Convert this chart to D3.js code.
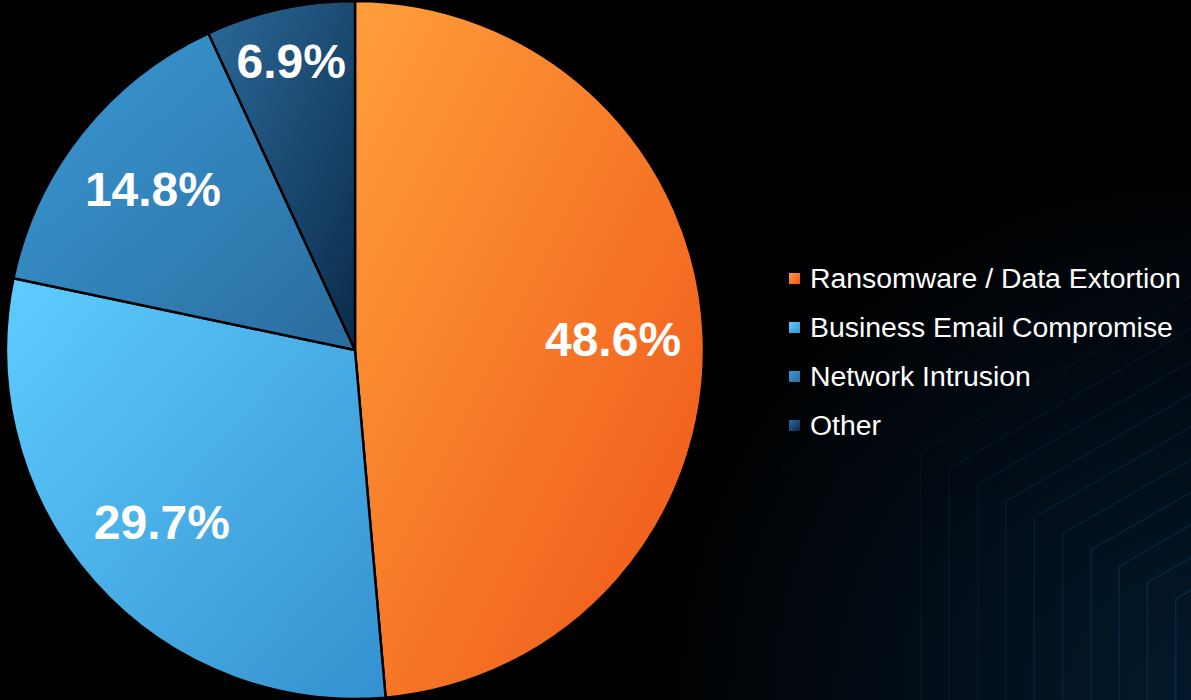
<!DOCTYPE html>
<html>
<head>
<meta charset="utf-8">
<script src="https://cdn.jsdelivr.net/npm/d3@7/dist/d3.min.js"></script>
<style>
  html, body { margin: 0; padding: 0; background: #000; overflow: hidden; }
  svg { display: block; }
</style>
</head>
<body>
<svg id="chart" width="1191" height="700"></svg>
<script>
// Incident types and their share of cases (%)
const categories = ["Ransomware / Data Extortion", "Business Email Compromise", "Network Intrusion", "Other"];
const shares = [48.6, 29.7, 14.8, 6.9];
const shareLabels = ["48.6%", "29.7%", "14.8%", "6.9%"];

// Per-slice gradient stops (light top-left -> deep bottom-right)
const gradLight = ["#ff9f3a", "#5ecdff", "#3a9ad6", "#2b6a9a"];
const gradDeep  = ["#ee5418", "#3590cf", "#2a6c9e", "#0b2b4a"];

const W = 1191, H = 700;
const svg = d3.select("#chart");
const defs = svg.append("defs");

// Background: black fading to dark navy toward the lower right
const bg = defs.append("radialGradient")
  .attr("id", "bg").attr("gradientUnits", "userSpaceOnUse")
  .attr("cx", W).attr("cy", H).attr("r", 540);
bg.append("stop").attr("offset", 0).attr("stop-color", "#03192b");
bg.append("stop").attr("offset", 0.55).attr("stop-color", "#020c16");
bg.append("stop").attr("offset", 1).attr("stop-color", "#000000");
svg.append("rect").attr("width", W).attr("height", H).attr("fill", "url(#bg)");

// Decorative stepped line pattern in the lower right corner
const deco = svg.append("g").attr("fill", "none").attr("stroke-width", 1.5);
const tan30 = Math.tan(Math.PI / 6);
d3.range(10).forEach(i => {
  const x = 921 + i * 28.3;
  const y = 452 + i * 28.3 * tan30;
  const xEnd = W + 40;
  const yEnd = y - (xEnd - x) * tan30;
  deco.append("path")
    .attr("d", `M${x},${H + 5}L${x},${y}L${xEnd},${yEnd}`)
    .attr("stroke", "#0b3a5c")
    .attr("stroke-opacity", 0.2 + i * 0.04);
});
// fainter diagonal streaks further up
d3.range(6).forEach(i => {
  const x0 = 780 + i * 60, y0 = 470 - i * 5;
  deco.append("path")
    .attr("d", `M${x0},${y0}L${W + 40},${y0 - (W + 40 - x0) * tan30}`)
    .attr("stroke", "#0b2f4a")
    .attr("stroke-opacity", 0.12);
});

// Slice gradients
categories.forEach((c, i) => {
  const g = defs.append("linearGradient")
    .attr("id", "g" + i)
    .attr("x1", 0).attr("y1", 0).attr("x2", 1).attr("y2", 1);
  g.append("stop").attr("offset", 0).attr("stop-color", gradLight[i]);
  g.append("stop").attr("offset", 1).attr("stop-color", gradDeep[i]);
});

const cx = 355, cy = 350, R = 349;
const data = categories.map((c, i) => ({ name: c, value: shares[i], label: shareLabels[i], i }));

const pie = d3.pie().value(d => d.value).sort(null);
const arc = d3.arc().innerRadius(0).outerRadius(R);
const arcs = pie(data);

const g = svg.append("g").attr("transform", `translate(${cx},${cy})`);
g.selectAll("path.slice")
  .data(arcs)
  .join("path")
  .attr("class", "slice")
  .attr("d", arc)
  .attr("fill", d => `url(#g${d.data.i})`)
  .attr("stroke", "#000")
  .attr("stroke-width", 2.5)
  .attr("stroke-linejoin", "round");

// Value labels; thin slices get pushed further out
const labelArc = d3.arc().innerRadius(R * 0.74).outerRadius(R * 0.74);
const outerLabelArc = d3.arc().innerRadius(R * 0.85).outerRadius(R * 0.85);
g.selectAll("text.val")
  .data(arcs)
  .join("text")
  .attr("class", "val")
  .attr("transform", d => {
    const a = (d.endAngle - d.startAngle) < 0.5 ? outerLabelArc : labelArc;
    const [x, y] = a.centroid(d);
    return `translate(${x},${y})`;
  })
  .attr("text-anchor", "middle")
  .attr("dy", "0.36em")
  .attr("fill", "#ffffff")
  .attr("font-family", "'Liberation Sans', Arial, sans-serif")
  .attr("font-weight", "bold")
  .attr("font-size", 48)
  .text(d => d.data.label);

// Legend
const legend = svg.append("g").attr("transform", "translate(789,288)");
const rowH = 49;
const rows = legend.selectAll("g.row")
  .data(data)
  .join("g")
  .attr("class", "row")
  .attr("transform", (d, i) => `translate(0,${i * rowH})`);
rows.append("rect")
  .attr("x", 0).attr("y", -15)
  .attr("width", 11).attr("height", 11)
  .attr("fill", d => `url(#g${d.i})`);
rows.append("text")
  .attr("x", 21).attr("y", 0)
  .attr("fill", "#ffffff")
  .attr("font-family", "'Liberation Sans', Arial, sans-serif")
  .attr("font-size", 28.4)
  .text(d => d.name);
</script>
</body>
</html>
